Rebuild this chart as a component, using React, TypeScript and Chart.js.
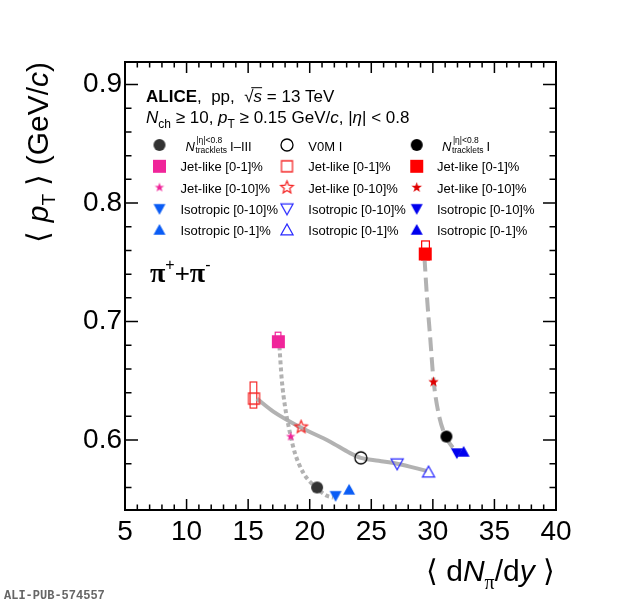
import { useEffect, useRef } from "react"
import { Chart, registerables } from "chart.js"

Chart.register(...registerables)

// seleções (mesma ordem em todos os estimadores)
const selections = ["Jet-like [0-1]%", "Jet-like [0-10]%", "Isotropic [0-10]%", "Isotropic [0-1]%"]
const estimators = ["I–III", "V0M I", "I"]

// pontos: [inclusivo, jet 0-1, jet 0-10, iso 0-10, iso 0-1]
const trkMidX = [20.6, 17.45, 18.45, 22.1, 23.2]
const trkMidY = [0.56, 0.683, 0.603, 0.553, 0.558]
const v0mX = [24.15, 15.48, 19.3, 27.1, 29.65]
const v0mY = [0.585, 0.635, 0.611, 0.58, 0.573]
const trkHighX = [31.1, 29.38, 30.05, 31.95, 32.5]
const trkHighY = [0.603, 0.757, 0.649, 0.589, 0.59]

// curvas cinzentas
const curveMidX = [17.54, 17.73, 18.0, 18.4, 18.8, 19.5, 20.3, 21.4, 21.9]
const curveMidY = [0.679, 0.651, 0.628, 0.606, 0.589, 0.572, 0.562, 0.553, 0.5515]
const curveV0mX = [15.7, 17.05, 19.2, 21.66, 23.28, 24.15, 25.6, 27.1, 29.5]
const curveV0mY = [0.635, 0.624, 0.611, 0.5986, 0.589, 0.585, 0.5825, 0.58, 0.574]
const curveHighX = [29.32, 29.52, 29.78, 30.05, 30.46, 31.0, 31.68, 32.36]
const curveHighY = [0.754, 0.721, 0.687, 0.651, 0.6226, 0.604, 0.593, 0.588]

// caixas de incerteza sistemática
const sysXLow = [17.2, 15.16, 29.09]
const sysXHigh = [17.66, 15.7, 29.72]
const sysYLow = [0.679, 0.627, 0.752]
const sysYHigh = [0.691, 0.649, 0.768]
const sysColors = ["#f0259a", "#f52a2a", "#ff0000"]

const xTicks = [5, 10, 15, 20, 25, 30, 35, 40]
const yTicks = [0.6, 0.7, 0.8, 0.9]

const sans = '"Liberation Sans", Arial, Helvetica, sans-serif'

const groupColors = [
  ["#333333", "#f0259a", "#f0259a", "#0a5cf5", "#0a5cf5"],
  ["#000000", "#f52a2a", "#f52a2a", "#2a2aff", "#2a2aff"],
  ["#000000", "#ff0000", "#e00000", "#0000ee", "#0000ee"],
]
const groupFilled = [true, false, true]
const shapes = ["circle", "square", "star", "down", "up"]

function makeMarker(shape: string, color: string, filled: boolean, size: number) {
  const dim = Math.ceil(size + 4)
  const c = document.createElement("canvas")
  c.width = dim
  c.height = dim
  const ctx = c.getContext("2d")!
  const r = size / 2
  const cx = dim / 2
  const cy = dim / 2
  ctx.beginPath()
  if (shape === "circle") ctx.arc(cx, cy, r, 0, Math.PI * 2)
  else if (shape === "square") ctx.rect(cx - r, cy - r, size, size)
  else if (shape === "up") {
    ctx.moveTo(cx, cy - r)
    ctx.lineTo(cx + r, cy + r * 0.8)
    ctx.lineTo(cx - r, cy + r * 0.8)
    ctx.closePath()
  } else if (shape === "down") {
    ctx.moveTo(cx, cy + r)
    ctx.lineTo(cx + r, cy - r * 0.8)
    ctx.lineTo(cx - r, cy - r * 0.8)
    ctx.closePath()
  } else {
    const inner = filled ? 0.4 : 0.45
    for (let i = 0; i < 10; i++) {
      const a = -Math.PI / 2 + (i * Math.PI) / 5
      const rr = i % 2 === 0 ? r : r * inner
      const px = cx + rr * Math.cos(a)
      const py = cy + rr * Math.sin(a)
      if (i === 0) ctx.moveTo(px, py)
      else ctx.lineTo(px, py)
    }
    ctx.closePath()
  }
  if (filled) {
    ctx.fillStyle = color
    ctx.fill()
  } else {
    ctx.strokeStyle = color
    ctx.lineWidth = 1.3
    ctx.stroke()
  }
  return c
}

function markerSize(shape: string, g: number) {
  if (shape === "star") return g === 1 ? 13 : g === 0 ? 10 : 11
  if (shape === "square") return g === 1 ? 11 : 13
  return 12
}

type Seg = { t: string; f: string; dy?: number }

function drawRich(ctx: CanvasRenderingContext2D, segs: Seg[], x: number, y: number, align = "left") {
  let total = 0
  segs.forEach((s) => {
    ctx.font = s.f
    total += ctx.measureText(s.t).width
  })
  let cx = align === "right" ? x - total : x
  const xs: number[] = []
  segs.forEach((s) => {
    ctx.font = s.f
    xs.push(cx)
    ctx.fillText(s.t, cx, y + (s.dy || 0))
    cx += ctx.measureText(s.t).width
  })
  xs.push(cx)
  return xs
}

function drawTracklets(ctx: CanvasRenderingContext2D, x: number, y: number, tail: string) {
  ctx.font = `italic 13px ${sans}`
  ctx.fillText("N", x, y)
  const nx = x + ctx.measureText("N").width + 0.5
  ctx.font = `8.5px ${sans}`
  ctx.fillText("|η|<0.8", nx + 1, y - 8)
  ctx.fillText("tracklets", nx, y + 2)
  const w = ctx.measureText("tracklets").width
  ctx.font = `13px ${sans}`
  ctx.fillText(tail, nx + w + 3, y)
}

export default function App() {
  const canvasRef = useRef<HTMLCanvasElement>(null)
  const chartRef = useRef<Chart | null>(null)

  useEffect(() => {
    if (!canvasRef.current) return
    if (chartRef.current) chartRef.current.destroy()

    const groupsX = [trkMidX, v0mX, trkHighX]
    const groupsY = [trkMidY, v0mY, trkHighY]
    const markers = groupsX.map((_, g) =>
      shapes.map((s, i) => makeMarker(s, groupColors[g][i], groupFilled[g], markerSize(s, g)))
    )

    const pointSets: any[] = []
    groupsX.forEach((xs, g) => {
      xs.forEach((xv, i) => {
        pointSets.push({
          data: [{ x: xv, y: groupsY[g][i] }],
          pointStyle: markers[g][i],
          pointRadius: 6,
          order: 0,
        })
      })
    })

    const curve = (xs: number[], ys: number[], dash: number[]) => ({
      data: xs.map((xv, i) => ({ x: xv, y: ys[i] })),
      showLine: true,
      pointRadius: 0,
      borderColor: "rgba(170,170,170,0.9)",
      borderWidth: 4,
      borderDash: dash,
      borderCapStyle: "butt",
      cubicInterpolationMode: "monotone",
      tension: 0.4,
      order: 10,
    })

    const sysBoxes = {
      id: "sysBoxes",
      beforeDatasetsDraw(chart: any) {
        const { ctx, scales } = chart
        ctx.save()
        ctx.lineWidth = 1.2
        sysXLow.forEach((x0, i) => {
          const l = scales.x.getPixelForValue(x0)
          const r = scales.x.getPixelForValue(sysXHigh[i])
          const t = scales.y.getPixelForValue(sysYHigh[i])
          const b = scales.y.getPixelForValue(sysYLow[i])
          ctx.strokeStyle = sysColors[i]
          ctx.strokeRect(l, t, r - l, b - t)
        })
        ctx.restore()
      },
    }

    const frame = {
      id: "frame",
      afterDraw(chart: any) {
        const { ctx, chartArea: a, scales } = chart
        ctx.save()
        ctx.strokeStyle = "#000"
        ctx.lineWidth = 1.5
        ctx.beginPath()
        for (let v = 5; v <= 40; v++) {
          const px = scales.x.getPixelForValue(v)
          const len = v % 5 === 0 ? 11 : 5.5
          ctx.moveTo(px, a.bottom)
          ctx.lineTo(px, a.bottom - len)
          ctx.moveTo(px, a.top)
          ctx.lineTo(px, a.top + len)
        }
        for (let k = 28; k <= 45; k++) {
          const py = scales.y.getPixelForValue(k * 0.02)
          const len = k % 5 === 0 ? 13 : 6.5
          ctx.moveTo(a.left, py)
          ctx.lineTo(a.left + len, py)
          ctx.moveTo(a.right, py)
          ctx.lineTo(a.right - len, py)
        }
        ctx.stroke()
        ctx.lineWidth = 2
        ctx.strokeRect(a.left, a.top, a.right - a.left, a.bottom - a.top)

        // textos
        ctx.fillStyle = "#000"
        ctx.textBaseline = "alphabetic"
        ctx.textAlign = "left"
        const f17 = `17px ${sans}`
        const xs = drawRich(
          ctx,
          [
            { t: "ALICE", f: `bold 17px ${sans}` },
            { t: ",  pp,  ", f: f17 },
            { t: "√", f: f17 },
            { t: "s", f: `italic 17px ${sans}` },
            { t: " = 13 TeV", f: f17 },
          ],
          146,
          101.7
        )
        ctx.lineWidth = 1
        ctx.beginPath()
        ctx.moveTo(xs[2] + 7, 101.7 - 14)
        ctx.lineTo(xs[4], 101.7 - 14)
        ctx.stroke()

        const f11 = `12px ${sans}`
        drawRich(
          ctx,
          [
            { t: "N", f: `italic 17px ${sans}` },
            { t: "ch", f: f11, dy: 5 },
            { t: " ≥ 10, ", f: f17 },
            { t: "p", f: `italic 17px ${sans}` },
            { t: "T", f: f11, dy: 5 },
            { t: " ≥ 0.15 GeV/", f: f17 },
            { t: "c", f: `italic 17px ${sans}` },
            { t: ", |", f: f17 },
            { t: "η", f: `italic 17px ${sans}` },
            { t: "| < 0.8", f: f17 },
          ],
          146,
          123.3
        )

        // legenda 3 colunas
        const markX = [159.5, 287, 416.7]
        const textX = [180.5, 308.3, 437]
        const rowY = [145, 166.3, 187.5, 208.8, 230]
        for (let g = 0; g < 3; g++) {
          for (let i = 0; i < 5; i++) {
            const m = markers[g][i]
            ctx.drawImage(m, markX[g] - m.width / 2, rowY[i] - m.height / 2)
            const base = rowY[i] + 5
            ctx.font = `13px ${sans}`
            if (i === 0) {
              if (g === 1) ctx.fillText(estimators[g], textX[g], base + 1)
              else drawTracklets(ctx, textX[g] + 5, base + 1, estimators[g])
            } else {
              ctx.fillText(selections[i - 1], textX[g], base)
            }
          }
        }

        // π+ + π-
        const serif = '"Liberation Serif", "DejaVu Serif", serif'
        drawRich(
          ctx,
          [
            { t: "π", f: `bold 28px ${serif}` },
            { t: "+", f: `16px ${sans}`, dy: -12 },
            { t: "+", f: `26px ${sans}` },
            { t: "π", f: `bold 28px ${serif}` },
            { t: "-", f: `16px ${sans}`, dy: -12 },
          ],
          150,
          282
        )

        // títulos dos eixos
        const f30 = `30px ${sans}`
        drawRich(
          ctx,
          [
            { t: "⟨ d", f: f30 },
            { t: "N", f: `italic 30px ${sans}` },
            { t: "π", f: `20px ${serif}`, dy: 8 },
            { t: "/d", f: f30 },
            { t: "y", f: `italic 30px ${sans}` },
            { t: " ⟩", f: f30 },
          ],
          555,
          581,
          "right"
        )
        ctx.save()
        ctx.translate(48, 62)
        ctx.rotate(-Math.PI / 2)
        drawRich(
          ctx,
          [
            { t: "⟨ ", f: f30 },
            { t: "p", f: `italic 30px ${sans}` },
            { t: "T", f: `19px ${sans}`, dy: 7 },
            { t: " ⟩ (GeV/", f: f30 },
            { t: "c", f: `italic 30px ${sans}` },
            { t: ")", f: f30 },
          ],
          0,
          0,
          "right"
        )
        ctx.restore()

        ctx.fillStyle = "#666"
        ctx.font = `bold 12px "Liberation Mono", "DejaVu Sans Mono", monospace`
        ctx.fillText("ALI-PUB-574557", 4, 599)
        ctx.restore()
      },
    }

    chartRef.current = new Chart(canvasRef.current, {
      type: "scatter",
      data: {
        datasets: [
          ...pointSets,
          curve(curveMidX, curveMidY, [4, 3]),
          curve(curveV0mX, curveV0mY, []),
          curve(curveHighX, curveHighY, [14, 6]),
        ],
      },
      options: {
        animation: false,
        responsive: false,
        events: [],
        layout: { padding: { left: 0, top: 62, right: 64, bottom: 0 } },
        plugins: { legend: { display: false }, tooltip: { enabled: false } },
        scales: {
          x: {
            type: "linear",
            min: 5,
            max: 40,
            grid: { display: false, drawTicks: false },
            border: { display: false },
            afterBuildTicks: (s: any) => {
              s.ticks = xTicks.map((v) => ({ value: v }))
            },
            afterFit: (s: any) => {
              s.height = 93
            },
            ticks: {
              autoSkip: false,
              maxRotation: 0,
              padding: 5,
              color: "#000",
              font: { family: sans, size: 28 },
              callback: (v: any) => String(v),
            },
          },
          y: {
            type: "linear",
            min: 0.541,
            max: 0.919,
            grid: { display: false, drawTicks: false },
            border: { display: false },
            afterBuildTicks: (s: any) => {
              s.ticks = yTicks.map((v) => ({ value: v }))
            },
            afterFit: (s: any) => {
              s.width = 125
            },
            ticks: {
              padding: 3,
              color: "#000",
              font: { family: sans, size: 28 },
              callback: (v: any) => Number(v).toFixed(1),
            },
          },
        },
      } as any,
      plugins: [sysBoxes, frame],
    })

    return () => {
      if (chartRef.current) {
        chartRef.current.destroy()
        chartRef.current = null
      }
    }
  }, [])

  return (
    <div style={{ position: "absolute", left: 0, top: 0, width: 620, height: 603, background: "#fff" }}>
      <canvas ref={canvasRef} width={620} height={603} style={{ width: 620, height: 603 }} />
    </div>
  )
}
